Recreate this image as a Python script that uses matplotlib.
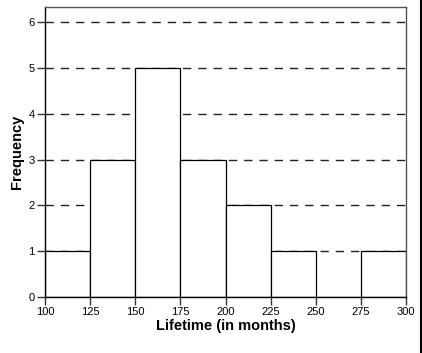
import matplotlib
matplotlib.use("Agg")
import matplotlib.pyplot as plt
from matplotlib.lines import Line2D

bin_edges = [100, 125, 150, 175, 200, 225, 250, 275, 300]
frequencies = [1, 3, 5, 3, 2, 1, 0, 1]
xticks = [100, 125, 150, 175, 200, 225, 250, 275, 300]
yticks = [0, 1, 2, 3, 4, 5, 6]

plt.rcParams['font.family'] = ['Liberation Sans', 'DejaVu Sans']

fig = plt.figure(figsize=(4.22, 3.53), dpi=100)
ax = fig.add_axes([45/422, (353-297)/353, (406-45)/422, (297-7)/353])

for y in yticks[1:]:
    ax.axhline(y, color='#222222', lw=1, dashes=(6, 5), zorder=1)

lefts = bin_edges[:-1]
widths = [b - a for a, b in zip(bin_edges[:-1], bin_edges[1:])]
ax.bar(lefts, frequencies, width=widths, align='edge', facecolor='white',
       edgecolor='black', linewidth=0.9, zorder=2)

ax.set_xlim(100, 300)
ax.set_ylim(0, 6.33)
ax.set_xticks(xticks)
ax.set_yticks(yticks)
ax.tick_params(axis='both', labelsize=8, length=6, width=1, color='#333333', pad=1.5)

for s in ['top', 'right']:
    ax.spines[s].set_color('#555555')
    ax.spines[s].set_linewidth(1)
for s in ['left', 'bottom']:
    ax.spines[s].set_color('black')
    ax.spines[s].set_linewidth(1)

ax.set_xlabel('Lifetime (in months)', fontsize=10.5, fontweight='bold', labelpad=1)
ax.set_ylabel('Frequency', fontsize=10.5, fontweight='bold', labelpad=3)

fig.add_artist(Line2D([420.5/422, 420.5/422], [0, 1], transform=fig.transFigure,
                      color='black', lw=1.5))

fig.savefig('out.png', dpi=100)
